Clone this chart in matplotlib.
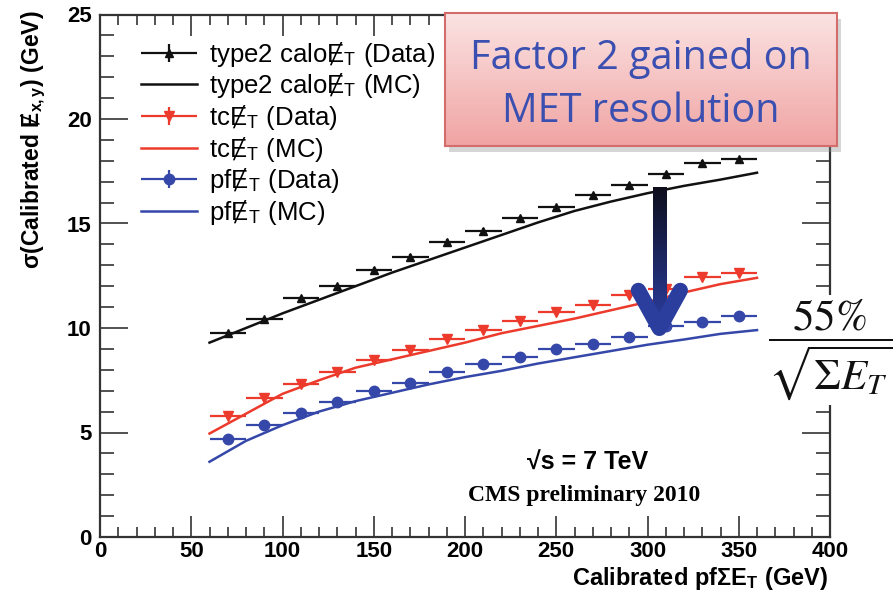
import numpy as np
import matplotlib
matplotlib.use("Agg")
import matplotlib.pyplot as plt
from matplotlib.container import ErrorbarContainer
from matplotlib.legend_handler import HandlerErrorbar
from matplotlib.colors import LinearSegmentedColormap
from matplotlib.patches import Rectangle

# binned data: bin centres (20 GeV wide) and measured resolution
bin_x = [70, 90, 110, 130, 150, 170, 190, 210, 230, 250, 270, 290, 310, 330, 350]
calo_data = [9.75, 10.42, 11.42, 12.0, 12.78, 13.4, 14.13, 14.66, 15.25, 15.77,
             16.36, 16.82, 17.35, 17.9, 18.08]
tc_data = [5.79, 6.64, 7.32, 7.91, 8.47, 8.95, 9.46, 9.9, 10.35, 10.78,
           11.1, 11.58, 11.85, 12.42, 12.62]
pf_data = [4.67, 5.36, 5.95, 6.48, 7.0, 7.38, 7.88, 8.28, 8.6, 8.98,
           9.23, 9.55, 10.1, 10.3, 10.57]

# simulation curves
mc_x = [60, 80, 100, 120, 140, 160, 180, 200, 220, 240, 260, 280, 300, 320, 340, 360]
calo_mc = [9.3, 10.0, 10.7, 11.35, 12.0, 12.65, 13.25, 13.85, 14.45, 15.05,
           15.6, 16.05, 16.45, 16.8, 17.1, 17.43]
tc_mc = [4.95, 5.9, 6.85, 7.5, 8.1, 8.5, 8.9, 9.3, 9.75, 10.1,
         10.45, 10.85, 11.25, 11.7, 12.1, 12.4]
pf_mc = [3.6, 4.6, 5.35, 6.0, 6.5, 6.9, 7.3, 7.65, 7.95, 8.3,
         8.6, 8.9, 9.2, 9.45, 9.72, 9.9]

BLACK = "#111111"
RED = "#ec3b2c"
BLUE = "#3547a8"
SANS = ["Liberation Sans", "DejaVu Sans"]

plt.rcParams["mathtext.fontset"] = "stix"

fig = plt.figure(figsize=(8.94, 5.94), dpi=100)
ax = fig.add_axes([100 / 894, 1 - 537 / 594, 730 / 894, 522.5 / 594])

series = [
    ("type2 calo", calo_data, calo_mc, BLACK, "^", 6),
    ("tc", tc_data, tc_mc, RED, "v", 7),
    ("pf", pf_data, pf_mc, BLUE, "o", 7.5),
]
met = "\u0246$_\\mathregular{T}$"
handles, labels = [], []
for name, data, mc, col, mk, ms in series:
    eb = ax.errorbar(bin_x, data, xerr=10, yerr=0.12, fmt=mk, color=col,
                     ms=ms, elinewidth=1.6, capsize=0, zorder=4)
    ln, = ax.plot(mc_x, mc, color=col, lw=1.8, zorder=3)
    handles += [eb, ln]
    labels += [f"{name}{met} (Data)", f"{name}{met} (MC)"]

ax.set_xlim(0, 400)
ax.set_ylim(0, 25)
ax.set_xticks(np.arange(0, 401, 50))
ax.set_xticks(np.arange(0, 401, 10), minor=True)
ax.set_yticks(np.arange(0, 26, 5))
ax.set_yticks(np.arange(0, 26, 1), minor=True)
ax.tick_params(which="both", direction="in", top=True, right=True,
               color="#333333", width=1.2)
ax.tick_params(which="major", length=15)
ax.tick_params(axis="y", which="major", length=20)
ax.tick_params(axis="x", which="minor", length=7)
ax.tick_params(axis="y", which="minor", length=10)
ax.tick_params(axis="x", pad=3)
ax.tick_params(axis="y", pad=6)
for lab in ax.get_xticklabels() + ax.get_yticklabels():
    lab.set_family(SANS)
    lab.set_fontweight("bold")
    lab.set_fontsize(16)
for sp in ax.spines.values():
    sp.set_linewidth(1.6)
    sp.set_color("#333333")

leg = ax.legend(handles, labels, loc="upper left",
                bbox_to_anchor=(128 / 894, 1 - 27 / 594),
                bbox_transform=fig.transFigure, frameon=False,
                prop={"family": SANS, "size": 18.5}, handlelength=2.2,
                handletextpad=0.45, labelspacing=0.1, borderpad=0,
                handler_map={ErrorbarContainer: HandlerErrorbar(xerr_size=1.1, yerr_size=0.35)})

# arrow from the calo curve down to the pf points
arrow_x = 306.5
shaft_top = 16.73
tip_y = 9.98
arm_y = 11.8
arm_dx = 11.5
grad = np.linspace(0, 1, 200).reshape(-1, 1)
cmap = LinearSegmentedColormap.from_list("shaft", ["#2a3c9c", "#0e0e1c"])
shaft = Rectangle((arrow_x - 3.6, tip_y + 0.3), 7.2, shaft_top - tip_y - 0.3,
                  facecolor="none", edgecolor="none")
ax.add_patch(shaft)
im = ax.imshow(grad, extent=[arrow_x - 3.6, arrow_x + 3.6, tip_y + 0.3, shaft_top],
               origin="lower", aspect="auto", cmap=cmap, zorder=6)
im.set_clip_path(shaft)
ax.plot([arrow_x - arm_dx, arrow_x, arrow_x + arm_dx], [arm_y, tip_y, arm_y],
        color="#2b3e9e", lw=11, solid_capstyle="round", solid_joinstyle="round",
        zorder=7)
ax.set_xlim(0, 400)
ax.set_ylim(0, 25)

# axis titles
fig.text(828 / 894, 1 - 578 / 594, "Calibrated pf\u03a3E$_\\mathregular{T}$ (GeV)",
         ha="right", va="center", family=SANS, fontweight="bold", fontsize=17)
fig.text(33 / 894, 1 - 10 / 594, "\u03c3(Calibrated \u0246$_\\mathregular{x,y}$) (GeV)",
         ha="center", va="top", rotation=90, family=SANS, fontweight="bold",
         fontsize=16.5)

ax.text(267, 3.55, "\u221as = 7 TeV", ha="center", va="center", family=SANS,
        fontweight="bold", fontsize=18)
ax.text(265, 2.0, "CMS preliminary 2010", ha="center", va="center",
        family="Liberation Serif", fontweight="bold", fontsize=17)

# resolution formula on the right
fig.text(830 / 894, 1 - 350 / 594, r"$\dfrac{55\%}{\sqrt{\Sigma E_T}}$",
         ha="center", va="center", fontsize=31, color="#111111", zorder=10,
         bbox=dict(facecolor="white", edgecolor="none", pad=2))

# highlighted message box with shadow
bx, by, bw, bh = 445 / 894, 1 - 146 / 594, 392 / 894, 133 / 594
fig.patches.append(Rectangle((bx + 4 / 894, by - 6 / 594), bw, bh,
                             transform=fig.transFigure, facecolor="#888888",
                             alpha=0.35, edgecolor="none", zorder=8))
box = fig.add_axes([bx, by, bw, bh], zorder=9)
pink = LinearSegmentedColormap.from_list("pink", ["#f0a4a3", "#fbe3e3"])
box.imshow(grad, extent=[0, 1, 0, 1], origin="lower", aspect="auto", cmap=pink)
box.set_xticks([])
box.set_yticks([])
for sp in box.spines.values():
    sp.set_color("#d26d6b")
    sp.set_linewidth(1.5)
box.text(0.5, 0.66, "Factor 2 gained on", ha="center", va="center",
         family="Open Sans", fontsize=28.5, color="#3a4fb0")
box.text(0.5, 0.26, "MET resolution", ha="center", va="center",
         family="Open Sans", fontsize=28.5, color="#3a4fb0")

fig.savefig("out.png", dpi=100)
